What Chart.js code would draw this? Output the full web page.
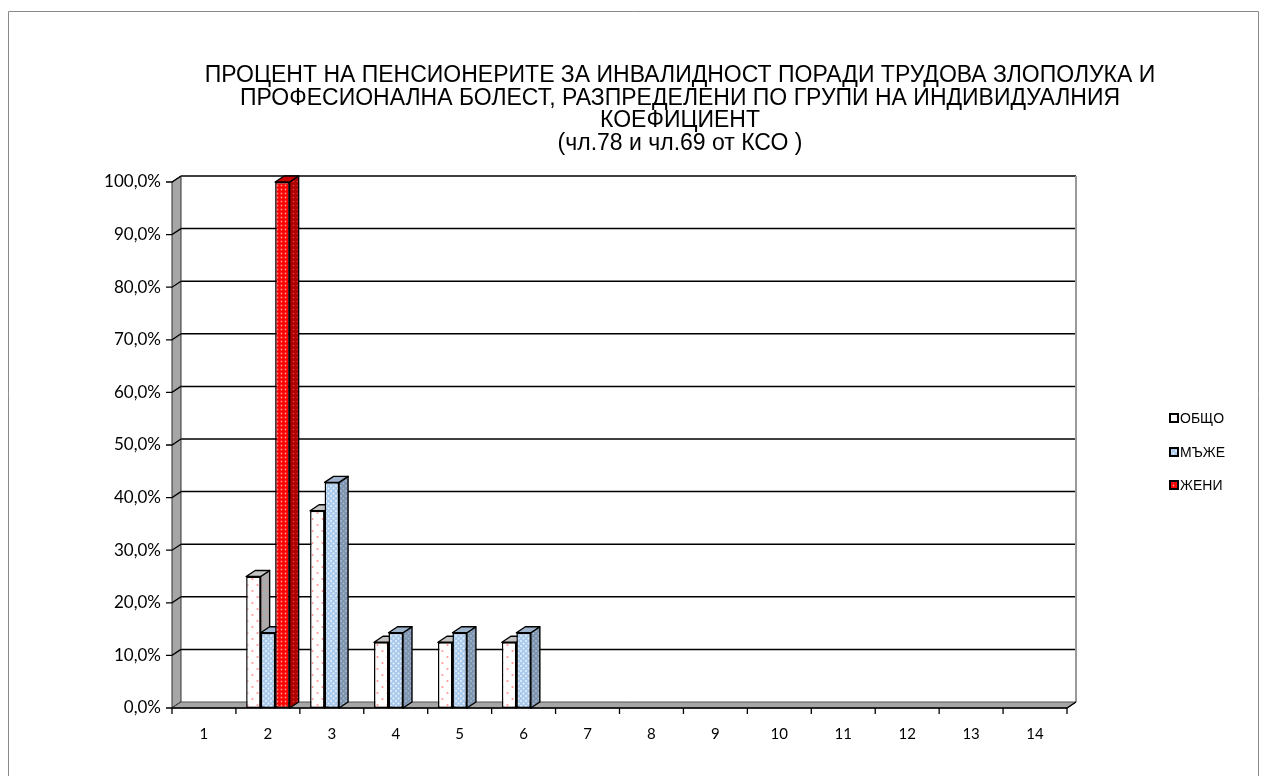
<!DOCTYPE html>
<html>
<head>
<meta charset="utf-8">
<script src="https://cdn.jsdelivr.net/npm/chart.js@4.4.1/dist/chart.umd.min.js"></script>
<style>
html,body{margin:0;padding:0;background:#fff;}
#wrap{width:1267px;height:776px;position:relative;}
</style>
</head>
<body>
<div id="wrap"><canvas id="c" width="1267" height="776"></canvas></div>
<script>
const titleLines = [
  'ПРОЦЕНТ НА ПЕНСИОНЕРИТЕ ЗА ИНВАЛИДНОСТ ПОРАДИ ТРУДОВА ЗЛОПОЛУКА И',
  'ПРОФЕСИОНАЛНА БОЛЕСТ, РАЗПРЕДЕЛЕНИ ПО ГРУПИ НА ИНДИВИДУАЛНИЯ',
  'КОЕФИЦИЕНТ',
  '(чл.78 и чл.69 от КСО )'
];
const categories = ['1','2','3','4','5','6','7','8','9','10','11','12','13','14'];
const seriesNames = ['ОБЩО','МЪЖЕ','ЖЕНИ'];
const obshto = [0, 0.250, 0.375, 0.125, 0.125, 0.125, 0, 0, 0, 0, 0, 0, 0, 0];
const mazhe  = [0, 0.143, 0.429, 0.143, 0.143, 0.143, 0, 0, 0, 0, 0, 0, 0, 0];
const zheni  = [0, 1.000, 0, 0, 0, 0, 0, 0, 0, 0, 0, 0, 0, 0];
const yTicks = [0,0.1,0.2,0.3,0.4,0.5,0.6,0.7,0.8,0.9,1.0];

const DX = 9, DY = 6;

function makePattern(w, h, bg, dotColor, dots, r) {
  const c = document.createElement('canvas');
  c.width = w; c.height = h;
  const g = c.getContext('2d');
  g.fillStyle = bg; g.fillRect(0,0,w,h);
  g.fillStyle = dotColor;
  dots.forEach(([x,y]) => { g.beginPath(); g.arc(x,y,r,0,Math.PI*2); g.fill(); });
  return document.getElementById('c').getContext('2d').createPattern(c,'repeat');
}

const pat = {
  front: [
    makePattern(10,12,'#ffffff','#ff9a9a',[[2.5,3],[7.5,9]],1.1),
    makePattern(5,5,'#a9c9ec','#e8f2fc',[[1,1],[3.5,3.5]],1.0),
    makePattern(4,4,'#ff0000','#ff9090',[[1.5,1.5]],0.9)
  ],
  side: [
    makePattern(5,12,'#ababab','#e09090',[[2.5,3],[2.5,9]],0.8),
    makePattern(5,5,'#7e94ae','#a9bbd0',[[1,1],[3.5,3.5]],0.9),
    makePattern(4,4,'#b00000','#d04848',[[1.5,1.5]],0.8)
  ],
  top: ['#c4c4c4','#9fb4cc','#c80000']
};

const scene3d = {
  id: 'scene3d',
  beforeDatasetsDraw(chart) {
    const {ctx, chartArea: a, scales: {x, y}} = chart;
    ctx.save();
    ctx.strokeStyle = '#000'; ctx.lineWidth = 1.5;
    yTicks.forEach(v => {
      const py = y.getPixelForValue(v);
      if (v > 0) {
        ctx.beginPath(); ctx.moveTo(a.left + DX, py - DY); ctx.lineTo(a.right + DX, py - DY); ctx.stroke();
      }
    });
    ctx.strokeStyle = '#9a9a9a'; ctx.lineWidth = 2;
    ctx.beginPath(); ctx.moveTo(a.right + DX, y.getPixelForValue(1) - DY); ctx.lineTo(a.right + DX, a.bottom - DY); ctx.stroke();
    ctx.fillStyle = '#a6a6a6'; ctx.strokeStyle = '#333'; ctx.lineWidth = 1;
    ctx.beginPath();
    ctx.moveTo(a.left, a.bottom); ctx.lineTo(a.left, a.top);
    ctx.lineTo(a.left + DX, a.top - DY); ctx.lineTo(a.left + DX, a.bottom - DY);
    ctx.closePath(); ctx.fill(); ctx.stroke();
    ctx.strokeStyle = '#000'; ctx.lineWidth = 1.3;
    yTicks.forEach(v => {
      const py = y.getPixelForValue(v);
      ctx.beginPath(); ctx.moveTo(a.left - 6, py); ctx.lineTo(a.left, py); ctx.lineTo(a.left + DX, py - DY); ctx.stroke();
    });
    ctx.fillStyle = '#a6a6a6'; ctx.strokeStyle = '#555'; ctx.lineWidth = 1;
    ctx.beginPath();
    ctx.moveTo(a.left, a.bottom); ctx.lineTo(a.right, a.bottom);
    ctx.lineTo(a.right + DX, a.bottom - DY); ctx.lineTo(a.left + DX, a.bottom - DY);
    ctx.closePath(); ctx.fill(); ctx.stroke();
    ctx.strokeStyle = '#000'; ctx.lineWidth = 1.3;
    ctx.beginPath(); ctx.moveTo(a.left, a.bottom); ctx.lineTo(a.right, a.bottom);
    ctx.lineTo(a.right + DX, a.bottom - DY); ctx.stroke();
    const cw = (a.right - a.left) / categories.length;
    for (let k = 0; k <= categories.length; k++) {
      const px = a.left + k * cw;
      ctx.beginPath(); ctx.moveTo(px, a.bottom); ctx.lineTo(px, a.bottom + 6); ctx.stroke();
    }
    const metas = chart.data.datasets.map((d, i) => chart.getDatasetMeta(i));
    for (let j = 0; j < categories.length; j++) {
      metas.forEach((m, di) => {
        const bar = m.data[j];
        const val = chart.data.datasets[di].data[j];
        if (!val) return;
        const L = bar.x - bar.width / 2, R = bar.x + bar.width / 2, T = bar.y, B = bar.base;
        ctx.lineWidth = 1.4; ctx.strokeStyle = '#000'; ctx.lineJoin = 'round';
        ctx.fillStyle = pat.side[di];
        ctx.beginPath();
        ctx.moveTo(R, T); ctx.lineTo(R + DX, T - DY); ctx.lineTo(R + DX, B - DY); ctx.lineTo(R, B);
        ctx.closePath(); ctx.fill(); ctx.stroke();
        ctx.fillStyle = pat.top[di];
        ctx.beginPath();
        ctx.moveTo(L, T); ctx.lineTo(R, T); ctx.lineTo(R + DX, T - DY); ctx.lineTo(L + DX, T - DY);
        ctx.closePath(); ctx.fill(); ctx.stroke();
      });
    }
    ctx.restore();
  },
  afterDraw(chart) {
    const ctx = chart.ctx;
    ctx.save();
    ctx.strokeStyle = '#8a8a8a'; ctx.lineWidth = 1;
    ctx.beginPath();
    ctx.moveTo(8.5, 776); ctx.lineTo(8.5, 11.5); ctx.lineTo(1258.5, 11.5); ctx.lineTo(1258.5, 776);
    ctx.stroke();
    ctx.fillStyle = '#000';
    ctx.font = '23px "Liberation Sans Narrow", "Liberation Sans", Arial, sans-serif';
    ctx.textAlign = 'center'; ctx.textBaseline = 'middle';
    const w0 = ctx.measureText(titleLines[0]).width;
    const sx = Math.min(1, 966 / w0);
    const ty = [76, 99, 121, 144];
    titleLines.forEach((t, i) => {
      ctx.save();
      ctx.translate(680, ty[i]);
      ctx.scale(sx, 1);
      ctx.fillText(t, 0, 0);
      ctx.restore();
    });
    ctx.font = '14px "Liberation Sans", Arial, sans-serif';
    ctx.textAlign = 'left';
    const ly = [418, 452, 485];
    seriesNames.forEach((n, i) => {
      ctx.fillStyle = pat.front[i];
      ctx.fillRect(1170, ly[i] - 4, 8, 8);
      ctx.strokeStyle = '#000'; ctx.lineWidth = 2;
      ctx.strokeRect(1170, ly[i] - 4, 8, 8);
      ctx.fillStyle = '#000';
      ctx.fillText(n, 1180, ly[i] + 1);
    });
    ctx.restore();
  }
};

new Chart(document.getElementById('c'), {
  type: 'bar',
  data: {
    labels: categories,
    datasets: [
      { label: seriesNames[0], data: obshto, backgroundColor: pat.front[0] },
      { label: seriesNames[1], data: mazhe, backgroundColor: pat.front[1] },
      { label: seriesNames[2], data: zheni, backgroundColor: pat.front[2] }
    ]
  },
  options: {
    responsive: false,
    animation: false,
    devicePixelRatio: 1,
    layout: { padding: { left: 0, right: 200, top: 182, bottom: 0 } },
    datasets: {
      bar: {
        categoryPercentage: 0.68,
        barPercentage: 1.0,
        borderColor: '#000',
        borderWidth: (c) => (c.raw ? 1.5 : 0),
        borderSkipped: false
      }
    },
    plugins: { legend: { display: false }, title: { display: false }, tooltip: { enabled: false } },
    scales: {
      x: {
        grid: { display: false, drawTicks: false },
        border: { display: false },
        ticks: { color: '#000', font: { family: 'Lato', size: 15 }, padding: 17, maxRotation: 0 },
        afterFit: (s) => { s.height = 68; }
      },
      y: {
        min: 0, max: 1,
        afterBuildTicks: (s) => { s.ticks = yTicks.map(v => ({ value: v })); },
        grid: { display: false, drawTicks: false },
        border: { display: false },
        ticks: {
          color: '#000', font: { family: 'Lato', size: 17 }, padding: 11,
          callback: (v) => (v * 100).toFixed(1).replace('.', ',') + '%'
        },
        afterFit: (s) => { s.width = 172; }
      }
    }
  },
  plugins: [scene3d]
});
</script>
</body>
</html>
